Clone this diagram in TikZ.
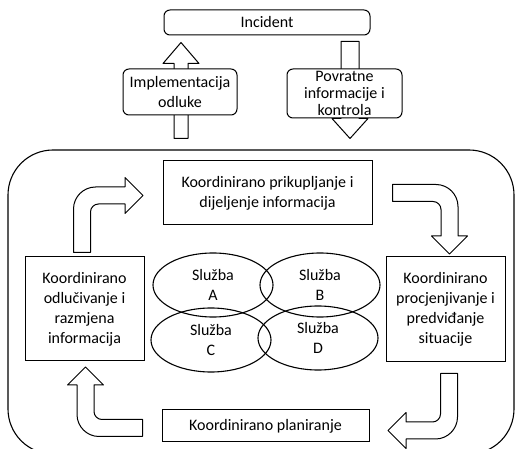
\documentclass[tikz,border=0pt]{standalone}
\usepackage{fontspec}
\setmainfont{Carlito}
\usetikzlibrary{calc,backgrounds,shapes.geometric}

\begin{document}
\begin{tikzpicture}[x=1pt,y=-1pt,
    okvir/.style={draw,line width=1pt,fill=white,align=center,inner sep=1pt,
                  font=\fontsize{16}{20}\selectfont},
    zaobljen/.style={okvir,rounded corners=6pt},
    sluzba/.style={draw,ellipse,line width=1.1pt,minimum width=120pt,minimum height=64pt,
                   inner sep=0pt,align=center,font=\fontsize{16}{20}\selectfont},
    blok/.style={draw,line width=1pt,fill=white,line join=round}]
  \useasboundingbox (0,0) rectangle (515,449);

  % gornji dio
  \node[zaobljen,minimum width=206pt,minimum height=25pt] (inc) at (267,22.5) {Incident};
  \node[zaobljen,minimum width=114pt,minimum height=46pt] (impl) at (180,92)
    {Implementacija\\odluke};
  \node[zaobljen,minimum width=115pt,minimum height=49pt,
        font=\fontsize{16}{17}\selectfont] (povr) at (344.5,93.5)
    {Povratne\\informacije i\\kontrola};

  % ciklus
  \node[okvir,minimum width=209pt,minimum height=64pt] (prik) at (267.5,193)
    {Koordinirano prikupljanje i\\dijeljenje informacija};
  \node[okvir,minimum width=119pt,minimum height=104pt] (odl) at (84.5,309)
    {Koordinirano\\odlučivanje i\\razmjena\\informacija};
  \node[okvir,minimum width=119pt,minimum height=105pt] (proc) at (445.5,309.5)
    {Koordinirano\\procjenjivanje i\\predviđanje\\situacije};
  \node[okvir,minimum width=207pt,minimum height=32pt] (plan) at (265.5,426)
    {Koordinirano planiranje};

  \node[sluzba] (sA) at (213,285) {Služba\\A};
  \node[sluzba] (sB) at (320,285) {Služba\\B};
  \node[sluzba] (sC) at (211,340) {Služba\\C};
  \node[sluzba] (sD) at (318,338) {Služba\\D};

  \coordinate (s1) at ($(odl.north)+(-2.5,-4)$);
  \coordinate (s2) at ($(prik.east)+(20,0)$);
  \coordinate (s3) at ($(proc.south)+(3.5,11)$);
  \coordinate (s4) at ($(plan.west)+(-19,2)$);
  \coordinate (g1) at ($(impl.south)+(1,23)$);
  \coordinate (g2) at ($(povr.north)+(5.5,-27)$);

  \begin{scope}[on background layer]
    \draw[line width=1.1pt,rounded corners=45pt] (8,150) rectangle (514,454);
    % ravne strelice
    \foreach \s/\rot/\w/\l/\t in {g1/0/7/75/21, g2/180/9/77/20}{
      \begin{scope}[shift={(\s)},rotate=\rot]
        \draw[blok] (-\w,0) -- (-\w,-\l) -- (-18,-\l) -- (0,-\l-\t)
          -- (18,-\l) -- (\w,-\l) -- (\w,0) -- cycle;
      \end{scope}
    }
    % savijene strelice
    \foreach \s/\rot in {s1/0, s2/-90, s3/180, s4/90}{
      \begin{scope}[shift={(\s)},rotate=\rot]
        \draw[blok] (-8.5,0) -- (-8.5,-43.5) .. controls (-8.5,-55.6) and (1.4,-65.5) .. (13.5,-65.5)
          -- (43,-65.5) -- (43,-75) -- (61,-57) -- (43,-39) -- (43,-48.5) -- (16.5,-48.5)
          .. controls (12.1,-48.5) and (8.5,-44.9) .. (8.5,-40.5) -- (8.5,0) -- cycle;
      \end{scope}
    }
  \end{scope}
\end{tikzpicture}
\end{document}
